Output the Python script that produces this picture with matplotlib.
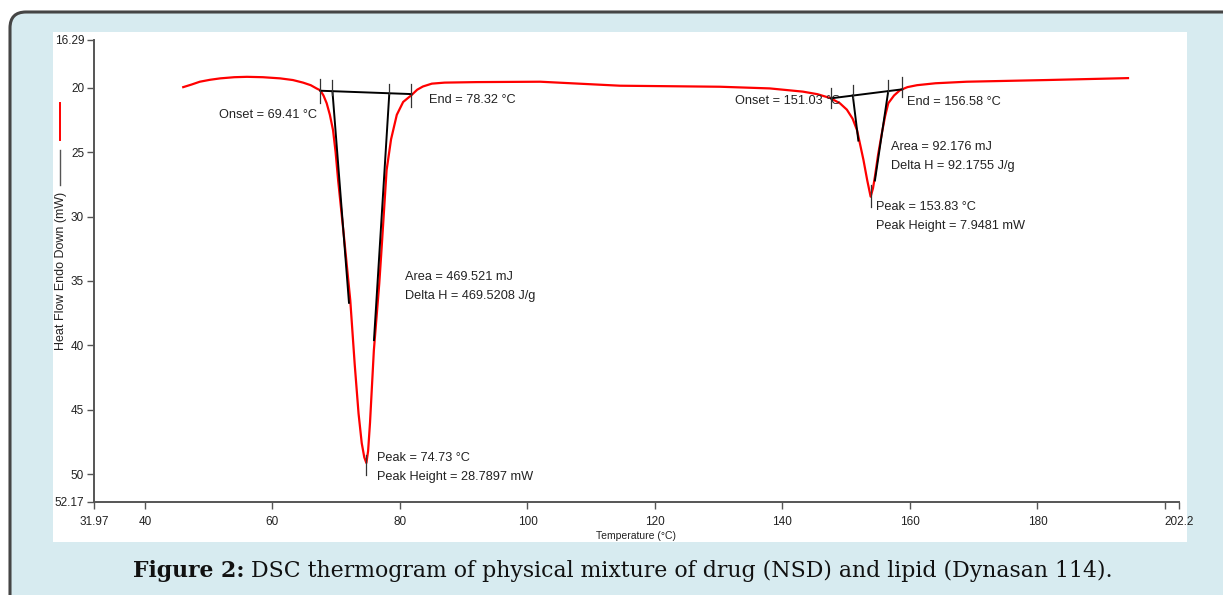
import matplotlib
matplotlib.use("Agg")
import matplotlib.pyplot as plt
from matplotlib.lines import Line2D
from matplotlib.patches import FancyBboxPatch, Rectangle
from matplotlib.transforms import IdentityTransform

# DSC trace (temperature in °C, heat flow in mW, endo down)
temperature = [46.0, 47.3, 48.6, 50.2, 51.8, 54.0, 56.0, 58.5, 61.2, 63.2, 64.8,
               66.0, 66.9, 67.5, 68.0, 68.5, 69.0, 69.5, 69.9, 70.3, 71.2, 72.2,
               72.9, 73.5, 74.0, 74.4, 74.73, 75.0, 75.3, 75.9, 76.75, 77.1, 77.9, 78.6,
               79.5, 80.5, 81.8, 82.7, 83.6, 85.0, 87.0, 92.0, 102.0, 114.5, 130.2,
               138.0, 143.2, 145.5, 147.5, 149.0, 150.1, 151.0, 151.7, 152.7, 153.3,
               153.83, 154.2, 154.5, 155.0, 155.6, 156.1, 156.6, 157.5, 158.4, 159.6,
               161.1, 164.0, 168.9, 181.4, 194.2]
heat_flow = [19.95, 19.75, 19.53, 19.38, 19.27, 19.18, 19.15, 19.18, 19.27, 19.4, 19.6,
             19.8, 20.05, 20.2, 20.6, 21.2, 22.1, 23.3, 25.0, 27.2, 31.5, 36.5,
             41.5, 45.3, 47.6, 48.7, 49.14, 48.2, 46.0, 40.4, 35.2, 32.6, 26.4, 24.0,
             22.1, 21.1, 20.57, 20.15, 19.9, 19.68, 19.6, 19.56, 19.53, 19.84, 19.92,
             20.05, 20.3, 20.5, 20.8, 21.2, 21.7, 22.4, 23.3, 25.6, 27.2,
             28.46, 27.8, 26.9, 25.2, 23.5, 22.2, 21.2, 20.6, 20.2, 19.95,
             19.8, 19.65, 19.53, 19.4, 19.25]

# analysis construction lines (black)
base1_t = [67.5, 81.8]
base1_v = [20.23, 20.49]
tan1_left_t = [69.41, 72.0]
tan1_left_v = [20.3, 36.7]
tan1_right_t = [78.32, 75.92]
tan1_right_v = [20.47, 39.6]
base2_t = [147.6, 158.8]
base2_v = [20.82, 20.12]
tan2_left_t = [151.03, 151.9]
tan2_left_v = [20.6, 24.1]
tan2_right_t = [156.58, 154.5]
tan2_right_v = [20.3, 27.2]

# small vertical markers: (temperature, top, bottom)
markers = [(67.5, 19.3, 21.2), (69.41, 19.4, 20.6), (78.32, 19.7, 20.5),
           (81.8, 19.7, 21.5), (74.73, 48.5, 50.1),
           (147.6, 20.0, 21.6), (151.03, 19.8, 20.8), (156.58, 19.4, 20.3),
           (158.8, 19.2, 20.7), (153.83, 27.55, 29.24)]

labels = [
    (66.98, 22.12, "Onset = 69.41 °C", "right"),
    (84.56, 20.95, "End = 78.32 °C", "left"),
    (80.77, 34.7, "Area = 469.521 mJ", "left"),
    (80.77, 36.17, "Delta H = 469.5208 J/g", "left"),
    (76.4, 48.75, "Peak = 74.73 °C", "left"),
    (76.4, 50.2, "Peak Height = 28.7897 mW", "left"),
    (132.55, 21.03, "Onset = 151.03 °C", "left"),
    (159.5, 21.1, "End = 156.58 °C", "left"),
    (157.0, 24.6, "Area = 92.176 mJ", "left"),
    (157.0, 26.08, "Delta H = 92.1755 J/g", "left"),
    (154.6, 29.26, "Peak = 153.83 °C", "left"),
    (154.6, 30.73, "Peak Height = 7.9481 mW", "left"),
]

x_ticks = [31.97, 40, 60, 80, 100, 120, 140, 160, 180, 200, 202.2]
x_tick_labels = ["31.97", "40", "60", "80", "100", "120", "140", "160", "180", "", "202.2"]
y_ticks = [16.29, 20, 25, 30, 35, 40, 45, 50, 52.17]
y_tick_labels = ["16.29", "20", "25", "30", "35", "40", "45", "50", "52.17"]

plt.rcParams["font.family"] = ["Liberation Sans", "DejaVu Sans"]

fig = plt.figure(figsize=(12.23, 5.95), dpi=100)
fig.patch.set_facecolor("white")

# page frame: light blue rounded box with white plot panel
frame = FancyBboxPatch((10, -30), 1260, 613,
                       boxstyle="round,pad=0,rounding_size=16",
                       transform=IdentityTransform(), facecolor="#d7ebf0",
                       edgecolor="#454545", linewidth=2.2, zorder=0)
fig.add_artist(frame)
panel = Rectangle((53, 595 - 541.7), 1134, 509.7, transform=IdentityTransform(),
                  facecolor="white", edgecolor="none", zorder=0.5)
fig.add_artist(panel)

ax = fig.add_axes([93.8 / 1223, 1 - 502 / 595, (1179 - 93.8) / 1223, (502 - 40) / 595])
ax.set_facecolor("none")
ax.set_zorder(2)

ax.plot(temperature, heat_flow, color="red", linewidth=1.6, zorder=3)

for t, v in [(base1_t, base1_v), (tan1_left_t, tan1_left_v), (tan1_right_t, tan1_right_v),
             (base2_t, base2_v), (tan2_left_t, tan2_left_v), (tan2_right_t, tan2_right_v)]:
    ax.plot(t, v, color="black", linewidth=1.4, zorder=4)
for t, top, bottom in markers:
    ax.plot([t, t], [top, bottom], color="#333333", linewidth=0.9, zorder=4)

for t, v, s, ha in labels:
    ax.text(t, v, s, ha=ha, va="center", fontsize=9.2, color="#222222", zorder=5)

ax.set_xlim(31.97, 202.2)
ax.set_ylim(52.17, 16.29)
ax.set_xticks(x_ticks)
ax.set_xticklabels(x_tick_labels)
ax.set_yticks(y_ticks)
ax.set_yticklabels(y_tick_labels)
ax.tick_params(axis="both", labelsize=8.5, length=5, width=1, color="#555555",
               labelcolor="#222222")
ax.tick_params(axis="x", pad=5)
ax.tick_params(axis="y", pad=2)
for side in ["top", "right"]:
    ax.spines[side].set_visible(False)
for side in ["left", "bottom"]:
    ax.spines[side].set_color("#555555")
    ax.spines[side].set_linewidth(1.4)

ax.set_xlabel("Temperature (°C)", fontsize=7.5, color="#222222", labelpad=2)

# y label with the little trace legend above it
fig.text(61 / 1223, 1 - 271 / 595, "Heat Flow Endo Down (mW)", rotation=90,
         ha="center", va="center", fontsize=9, color="#222222")
fig.add_artist(Line2D([60 / 1223, 60 / 1223], [1 - 103 / 595, 1 - 140 / 595],
                      color="red", linewidth=1.4))
fig.add_artist(Line2D([60 / 1223, 60 / 1223], [1 - 150 / 595, 1 - 185 / 595],
                      color="#555555", linewidth=1.0))

# caption
serif = ["DejaVu Serif", "Liberation Serif"]
cap = fig.text(133 / 1223, 1 - 577 / 595, "Figure 2:", fontsize=15.8, fontweight="bold",
               family=serif, color="#111111", ha="left", va="baseline")
ax.annotate(" DSC thermogram of physical mixture of drug (NSD) and lipid (Dynasan 114).",
            xy=(1, 0), xycoords=cap, ha="left", va="bottom", fontsize=15.8,
            family=serif, color="#111111", annotation_clip=False)

fig.savefig("out.png", dpi=100)
